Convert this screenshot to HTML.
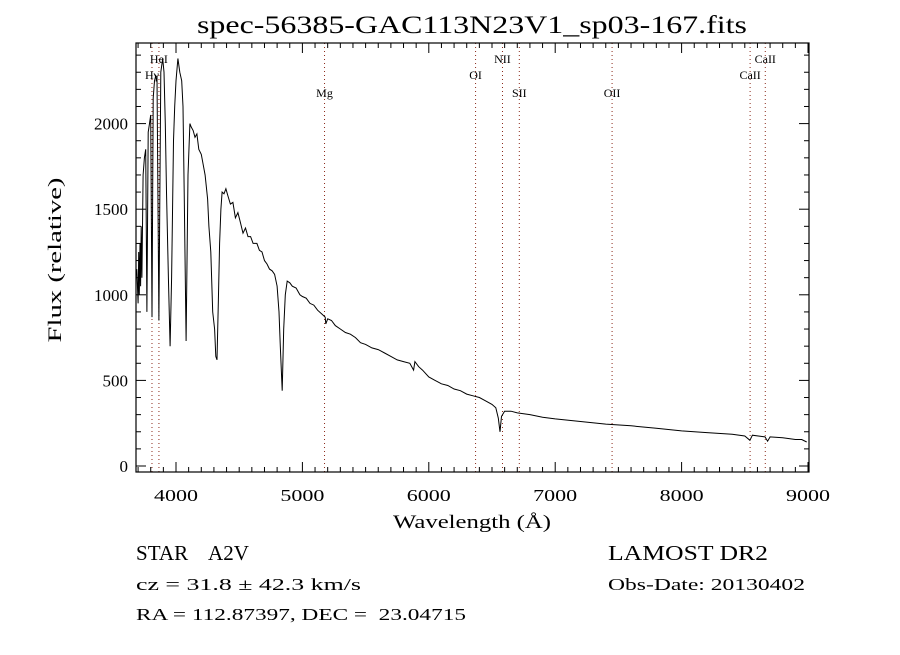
<!DOCTYPE html>
<html><head><meta charset="utf-8"><style>
body{margin:0;background:#fff;}
svg text{font-family:"Liberation Serif",serif;fill:#000;white-space:pre;}
</style></head><body>
<svg id="chart" width="900" height="650" xmlns="http://www.w3.org/2000/svg">
<rect width="900" height="650" fill="#fff"/>
<text x="472" y="33" font-size="25" text-anchor="middle" textLength="550" lengthAdjust="spacingAndGlyphs">spec-56385-GAC113N23V1_sp03-167.fits</text>
<g id="lines"></g>
<g id="ticks"></g>
<path id="spec" fill="none" stroke="#000" stroke-width="1"/>
<rect x="136" y="43" width="673" height="429" fill="none" stroke="#000" stroke-width="1.2"/>
<text x="472" y="528" font-size="19" text-anchor="middle" textLength="158" lengthAdjust="spacingAndGlyphs">Wavelength (Å)</text>
<text transform="translate(61,260) rotate(-90)" font-size="19" text-anchor="middle" textLength="165" lengthAdjust="spacingAndGlyphs">Flux (relative)</text>
<text x="136" y="560" font-size="21" textLength="113" lengthAdjust="spacingAndGlyphs">STAR    A2V</text>
<text x="608" y="560" font-size="21" textLength="160" lengthAdjust="spacingAndGlyphs">LAMOST DR2</text>
<text x="136" y="590" font-size="17" textLength="225" lengthAdjust="spacingAndGlyphs">cz = 31.8 ± 42.3 km/s</text>
<text x="608" y="590" font-size="17" textLength="197" lengthAdjust="spacingAndGlyphs">Obs-Date: 20130402</text>
<text x="136" y="620" font-size="17" textLength="330" lengthAdjust="spacingAndGlyphs">RA = 112.87397, DEC =  23.04715</text>
</svg>
<script>
const wl=[3690,3700,3705,3710,3715,3720,3725,3730,3740,3750,3760,3770,3780,3790,3800,3810,3820,3830,3840,3850,3865,3880,3895,3905,3915,3925,3940,3953,3965,3980,3990,4000,4015,4030,4045,4055,4065,4080,4095,4110,4120,4135,4150,4165,4180,4200,4215,4230,4250,4260,4275,4290,4305,4315,4324,4335,4345,4355,4365,4380,4395,4410,4430,4450,4470,4490,4510,4530,4550,4570,4590,4610,4640,4660,4680,4700,4720,4740,4760,4780,4800,4815,4825,4840,4852,4865,4880,4900,4920,4950,4980,5000,5030,5060,5090,5120,5150,5180,5185,5200,5230,5260,5300,5340,5380,5420,5460,5500,5550,5600,5650,5700,5750,5800,5850,5880,5890,5920,5950,6000,6050,6100,6150,6200,6250,6300,6350,6400,6450,6500,6530,6550,6563,6575,6600,6650,6700,6800,6900,7000,7200,7400,7600,7800,8000,8200,8400,8500,8540,8560,8660,8680,8700,8800,8900,8950,8990];
const flux=[1150,950,1250,1000,1300,1050,1400,1100,1700,1800,1850,900,1950,2000,2050,870,2150,2250,2280,2270,850,2300,2380,2300,2000,1600,1100,700,1100,1900,2100,2250,2380,2300,2250,2100,1600,730,1700,2000,1980,1960,1920,1940,1850,1820,1760,1700,1560,1400,1250,900,800,640,620,950,1300,1500,1600,1590,1620,1580,1530,1540,1450,1480,1420,1360,1390,1340,1340,1300,1300,1260,1250,1200,1180,1150,1140,1120,1050,900,700,440,800,1000,1080,1070,1050,1040,1000,990,980,950,940,910,890,870,830,860,850,820,800,780,770,750,720,710,690,680,660,640,620,610,600,560,610,580,560,520,500,480,470,450,440,420,410,400,380,360,340,280,200,290,320,320,310,300,285,275,260,245,235,220,205,195,185,175,150,180,170,145,170,165,155,155,140];
const xTicks=[4000,5000,6000,7000,8000,9000];
const yTicks=[0,500,1000,1500,2000];
const lineNames=["Hγ","HeI","Mg","OI","NII","SII","OII","CaII","CaII"];
const lineWl=[3810,3865,5175,6370,6583,6716,7450,8542,8662];
const labelRow=[1,0,2,1,0,2,2,1,0];
const X=w=>176+(w-4000)*0.1264;
const Y=f=>466-f*0.1712;
const NS="http://www.w3.org/2000/svg";
function mk(t,p,a){const e=document.createElementNS(NS,t);for(const k in a)e.setAttribute(k,a[k]);p.appendChild(e);return e;}
let d="";
for(let i=0;i<wl.length;i++)d+=(i?"L":"M")+X(wl[i]).toFixed(1)+" "+Y(flux[i]).toFixed(1);
document.getElementById('spec').setAttribute('d',d);
const tg=document.getElementById('ticks');
for(let w=3700;w<=9000;w+=100){const x=X(w);const L=(w%1000===0)?10:5;
 const t1=mk('line',tg,{x1:x,x2:x,y1:472,y2:472-L,stroke:'#000'});
 
 
 const t2=mk('line',tg,{x1:x,x2:x,y1:43,y2:43+L,stroke:'#000'});
 
 }
for(let f=0;f<=2400;f+=100){const y=Y(f);const L=(f%500===0)?10:5;
 const t1=mk('line',tg,{x1:136,x2:136+L,y1:y,y2:y,stroke:'#000'});
 
 
 const t2=mk('line',tg,{x1:809,x2:809-L,y1:y,y2:y,stroke:'#000'});
 
 }
xTicks.forEach(v=>{const t=mk('text',tg,{x:X(v),y:501,'font-size':17,'text-anchor':'middle',textLength:44,lengthAdjust:'spacingAndGlyphs'});t.textContent=v;
 
 });
yTicks.forEach(v=>{const t=mk('text',tg,{x:128,y:Y(v)+6,'font-size':17,'text-anchor':'end'});t.textContent=v;
 
 });
const lg=document.getElementById('lines');
const rowY=[63,79,97];
lineWl.forEach((w,i)=>{const x=X(w);
 const l=mk('line',lg,{x1:x,x2:x,y1:43,y2:472,stroke:'#8b2a1a','stroke-dasharray':'1 3'});
 
 
 const t=mk('text',lg,{x:x,y:rowY[labelRow[i]],'font-size':12,'text-anchor':'middle'});t.textContent=lineNames[i];
 
 });
</script>
</body></html>
